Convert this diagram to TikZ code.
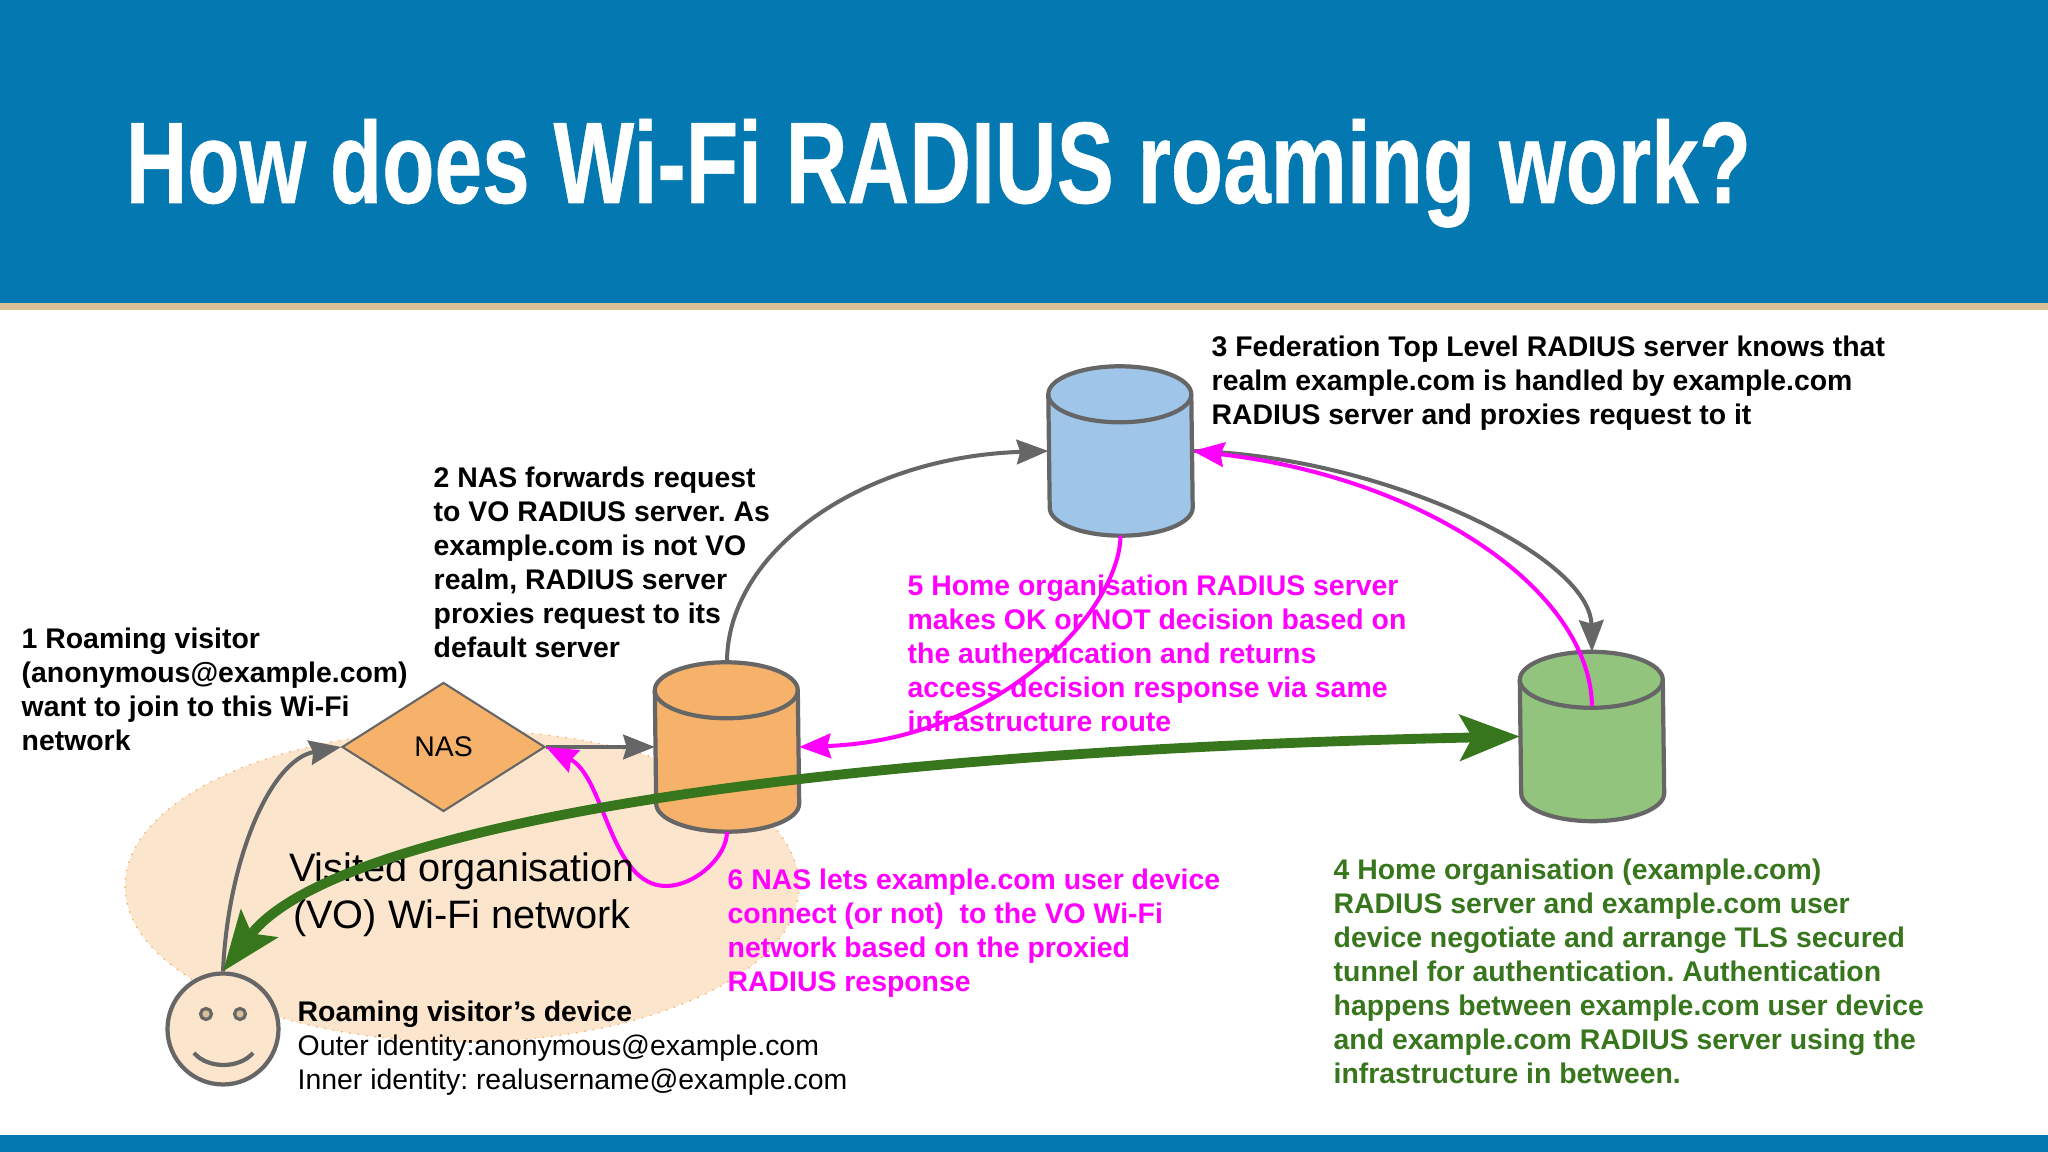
\documentclass[tikz,border=0pt]{standalone}
\usepackage{fontspec}
\setmainfont{Liberation Sans}
\newfontfamily\titlefont[BoldFeatures={FakeBold=0.5}]{Liberation Sans}
\usetikzlibrary{arrows.meta, shapes.geometric}

\definecolor{bandblue}{HTML}{0478B0}
\definecolor{bandtan}{HTML}{D9BF98}
\definecolor{peach}{HTML}{FCE5CD}
\definecolor{nasorange}{HTML}{F6B26B}
\definecolor{topblue}{HTML}{9FC5E8}
\definecolor{homegreen}{HTML}{93C47D}
\definecolor{linegray}{HTML}{666666}
\definecolor{tunnelgreen}{HTML}{38761D}
\definecolor{replymagenta}{HTML}{FF00FF}

\tikzset{
    server/.style={minimum width=1.43cm, minimum height=1.68cm, inner sep=0pt},
    drum/.style={draw=linegray, line width=1.2pt},
    note/.style={anchor=north west, align=left, inner sep=0pt,
        font=\fontsize{8.08}{9.67}\selectfont\bfseries},
    request/.style={draw=linegray, line width=1.15pt, -{Stealth[length=9pt, width=7pt, inset=1pt]}},
    reply/.style={draw=replymagenta, line width=1.15pt, -{Stealth[length=9pt, width=7pt, inset=1pt]}},
    tunnel/.style={draw=tunnelgreen, line width=2.8pt,
        {Stealth[length=17pt, width=13pt, inset=3.5pt]}-{Stealth[length=17pt, width=13pt, inset=3.5pt]}},
}

% server name, position, fill
\newcommand{\serverdrum}[3]{
    \node[server] (#1) at (#2) {};
    \draw[drum, fill=#3] ([yshift=-0.28cm]#1.north west) arc (180:0:0.715 and 0.28)
        -- ([yshift=0.28cm]#1.south east) arc (360:180:0.715 and 0.28) -- cycle;
    \draw[drum] ([yshift=-0.28cm]#1.north west) arc (180:360:0.715 and 0.28);
}

\begin{document}
\begin{tikzpicture}
    \frenchspacing
    \useasboundingbox (0,0) rectangle (20.48,11.52);

    % Bands
    \fill[bandblue] (0,8.49) rectangle (20.48,11.52);
    \fill[bandtan] (0,8.42) rectangle (20.48,8.49);
    \fill[bandblue] (0,0) rectangle (20.48,0.17);
    \node[anchor=base west, inner sep=0pt, text=white, xscale=0.738,
        font=\fontsize{33}{38}\selectfont\titlefont\bfseries] (title) at (1.25,9.49) {How does Wi-Fi RADIUS roaming work?};

    % Visited network
    \node[ellipse, draw=nasorange, dotted, line width=0.4pt, fill=peach,
        minimum width=6.74cm, minimum height=3.12cm, inner sep=0pt] (vo) at (4.62,2.66) {};

    % Servers
    \node[diamond, draw=linegray, line width=0.6pt, fill=nasorange, minimum width=2.03cm,
        minimum height=1.29cm, inner sep=0pt, font=\fontsize{8.08}{9.67}\selectfont] (nas) at (4.435,4.05) {NAS};
    \serverdrum{vorad}{7.27,4.05}{nasorange}
    \serverdrum{toprad}{11.205,7.01}{topblue}
    \serverdrum{homerad}{15.92,4.155}{homegreen}

    % Visitor
    \node[circle, draw=linegray, line width=1.2pt, fill=peach, minimum size=1.11cm, inner sep=0pt] (face) at (2.23,1.23) {};
    \draw[linegray, line width=0.9pt, fill=bandtan] (2.06,1.38) circle (0.055);
    \draw[linegray, line width=0.9pt, fill=bandtan] (2.40,1.38) circle (0.055);
    \draw[linegray, line width=1.2pt] (1.94,0.99) .. controls (2.08,0.83) and (2.39,0.83) .. (2.53,0.99);

    % Request path
    \draw[request] (face.north) .. controls (2.28,2.92) and (2.70,3.92) .. (nas.west);
    \draw[request] (nas.east) -- (vorad.west);
    \draw[request] (vorad.north) .. controls (7.27,6.0) and (8.6,6.95) .. (toprad.west);
    \draw[request] (toprad.east) .. controls (13.8,6.96) and (15.9,5.97) .. (homerad.north);

    % Reply path
    \coordinate (homein) at (15.92,4.46);
    \draw[reply] (homein) .. controls (15.90,5.62) and (14.25,6.74) .. (toprad.east);
    \draw[reply] (toprad.south) .. controls (11.2,5.42) and (10.0,4.12) .. (vorad.east);
    \coordinate (loop) at (6.66,2.66);
    \draw[reply] (vorad.south) .. controls (7.27,2.95) and (6.95,2.66) .. (loop)
        .. controls (6.1,2.66) and (6.05,3.75) .. (nas.east);

    % Notes
    \node[note] (step1) at (0.21,5.245) {1 Roaming visitor\\(anonymous@example.com)\\want to join to this Wi-Fi\\network};
    \node[note] (step2) at (4.33,6.855) {2 NAS forwards request\\to VO RADIUS server. As\\example.com is not VO\\realm, RADIUS server\\proxies request to its\\default server};
    \node[note] (step3) at (12.11,8.165) {3 Federation Top Level RADIUS server knows that\\realm example.com is handled by example.com\\RADIUS server and proxies request to it};
    \node[note, text=tunnelgreen] (step4) at (13.33,2.935) {4 Home organisation (example.com)\\RADIUS server and example.com user\\device negotiate and arrange TLS secured\\tunnel for authentication. Authentication\\happens between example.com user device\\and example.com RADIUS server using the\\infrastructure in between.};
    \node[note, text=replymagenta] (step5) at (9.07,5.775) {5 Home organisation RADIUS server\\makes OK or NOT decision based on\\the authentication and returns\\access decision response via same\\infrastructure route};
    \node[note, text=replymagenta] (step6) at (7.27,2.835) {6 NAS lets example.com user device\\connect (or not)~ to the VO Wi-Fi\\network based on the proxied\\RADIUS response};
    \node[note, font=\fontsize{8.08}{9.67}\selectfont] (device) at (2.97,1.515) {\textbf{Roaming visitor’s device}\\Outer identity:anonymous@example.com\\Inner identity: realusername@example.com};
    \node[align=center, inner sep=0pt, font=\fontsize{11.3}{13.4}\selectfont] (volabel) at (4.62,2.575) {Visited organisation\\(VO) Wi-Fi network};

    % Tunnel
    \draw[tunnel] (face.north) .. controls (3.3,3.22) and (7.8,4.0) .. (homerad.west);
\end{tikzpicture}
\end{document}
